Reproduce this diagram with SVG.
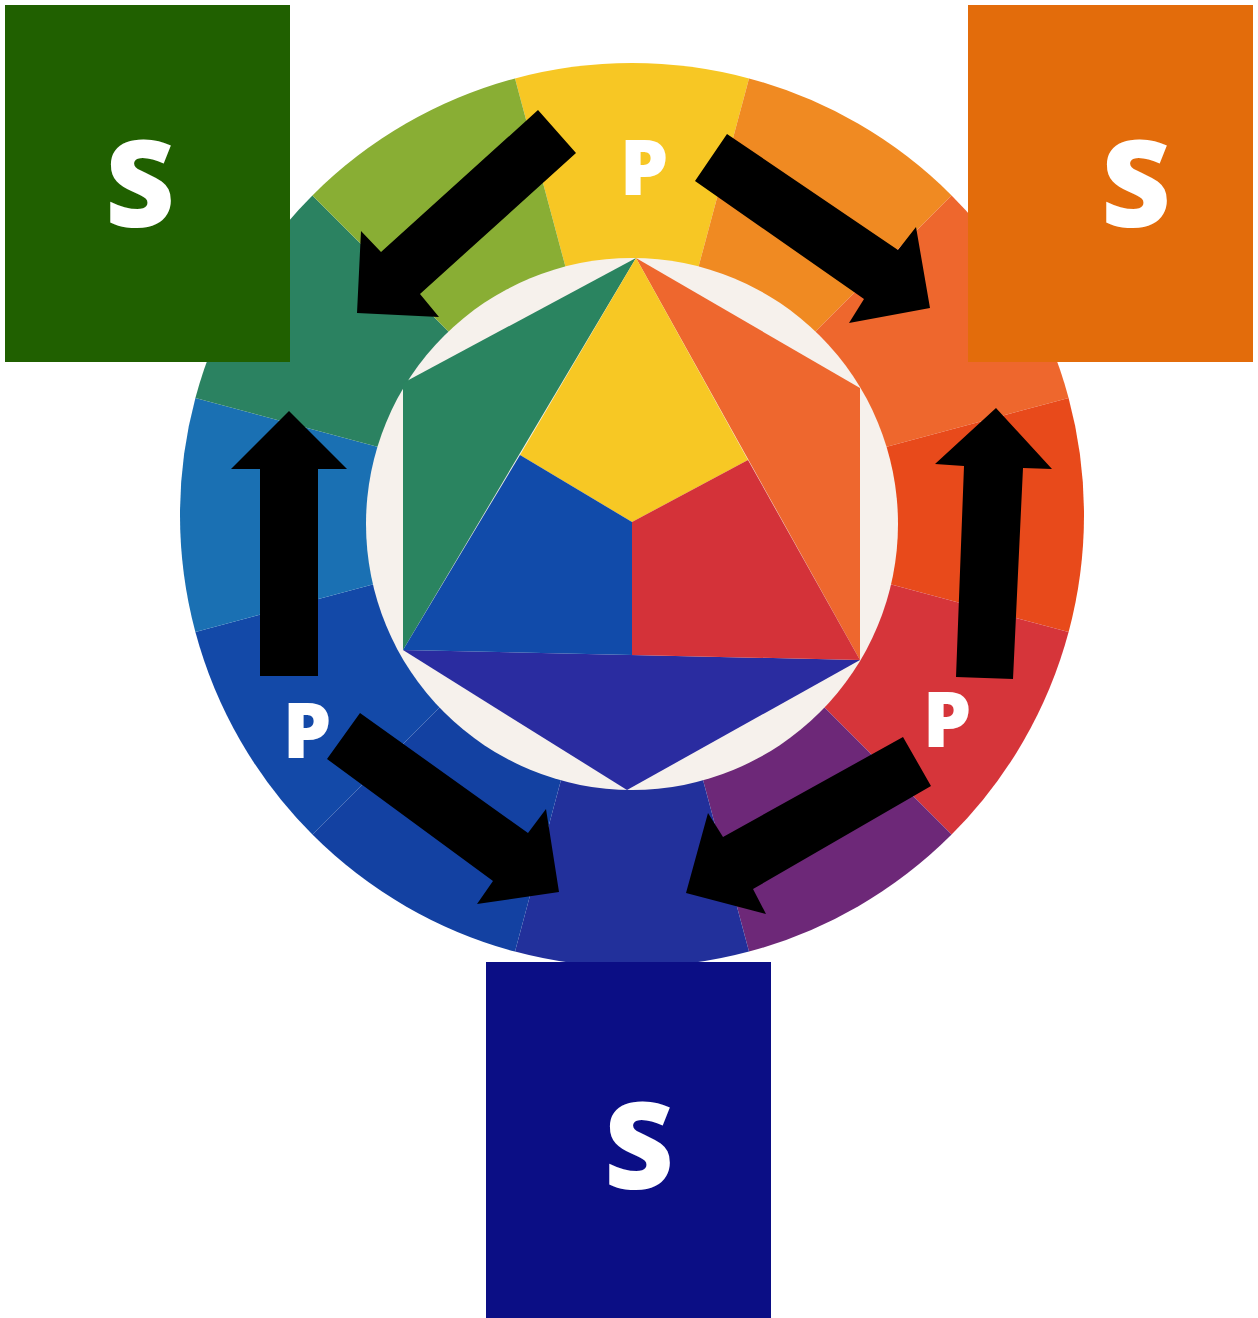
<svg xmlns="http://www.w3.org/2000/svg" width="1258" height="1318" viewBox="0 0 1258 1318">
<style>
.lbl{font-family:"Open Sans","DejaVu Sans",sans-serif;font-weight:800;fill:#ffffff;text-anchor:middle}
.p{font-size:77px}
.s{font-size:121px}
.arrow{fill:#000000}
</style>
<rect x="0" y="0" width="1258" height="1318" fill="#ffffff"/>
<g id="wheel">
<path d="M632,515 L515.0,78.4 A452,452 0 0 1 749.0,78.4 Z" fill="#F7C724"/>
<path d="M632,515 L749.0,78.4 A452,452 0 0 1 951.6,195.4 Z" fill="#F08A22"/>
<path d="M632,515 L951.6,195.4 A452,452 0 0 1 1068.6,398.0 Z" fill="#EE672D"/>
<path d="M632,515 L1068.6,398.0 A452,452 0 0 1 1068.6,632.0 Z" fill="#E84A1B"/>
<path d="M632,515 L1068.6,632.0 A452,452 0 0 1 951.6,834.6 Z" fill="#D6353A"/>
<path d="M632,515 L951.6,834.6 A452,452 0 0 1 749.0,951.6 Z" fill="#6D2878"/>
<path d="M632,515 L749.0,951.6 A452,452 0 0 1 515.0,951.6 Z" fill="#22309B"/>
<path d="M632,515 L515.0,951.6 A452,452 0 0 1 312.4,834.6 Z" fill="#1341A2"/>
<path d="M632,515 L312.4,834.6 A452,452 0 0 1 195.4,632.0 Z" fill="#1349A8"/>
<path d="M632,515 L195.4,632.0 A452,452 0 0 1 195.4,398.0 Z" fill="#1A70B3"/>
<path d="M632,515 L195.4,398.0 A452,452 0 0 1 312.4,195.4 Z" fill="#2B8261"/>
<path d="M632,515 L312.4,195.4 A452,452 0 0 1 515.0,78.4 Z" fill="#89AE34"/>
<circle cx="632" cy="524" r="266" fill="#F6F1EC"/>
<polygon points="636,258 403,383 403,650" fill="#2A8460"/>
<polygon points="636,258 860,388 860,660" fill="#EE672E"/>
<polygon points="403,650 860,660 627,790" fill="#2A2CA0"/>
<polygon points="636,258 748,460 632,522 520,455" fill="#F7C824"/>
<polygon points="748,460 860,660 632,655 632,522" fill="#D43239"/>
<polygon points="520,455 632,522 632,655 403,650" fill="#114BAA"/>
</g>
<g id="node-secondary-green">
<rect x="5" y="5" width="285" height="357" fill="#206000"/>
<text class="lbl s" x="140" y="227">S</text>
</g>
<g id="node-secondary-orange">
<rect x="968" y="5" width="285" height="357" fill="#E36C0B"/>
<text class="lbl s" x="1136" y="227">S</text>
</g>
<g id="node-secondary-violet">
<rect x="486" y="962" width="285" height="356" fill="#0B0E85"/>
<text class="lbl s" x="639" y="1189">S</text>
</g>
<g id="node-primary-yellow">
<text class="lbl p" x="644" y="195">P</text>
</g>
<g id="node-primary-blue">
<text class="lbl p" x="307" y="758">P</text>
</g>
<g id="node-primary-red">
<text class="lbl p" x="947" y="747">P</text>
</g>
<g id="connectors">
<polygon class="arrow" points="538,110 576,153 420,294 439,317 357,313 361,231 381,252"/>
<polygon class="arrow" points="727,134 695,181 864,299 849,323 930,308 916,227 898,250"/>
<polygon class="arrow" points="260,676 318,676 318,469 347,469 289,411 231,469 260,469"/>
<polygon class="arrow" points="956,677 1013,679 1023,468 1052,469 996,408 935,464 964,466"/>
<polygon class="arrow" points="360,713 327,759 493,881 477,904 559,892 546,809 528,833"/>
<polygon class="arrow" points="903,737 931,786 753,889 766,914 686,893 708,813 723,837"/>
</g>
</svg>
